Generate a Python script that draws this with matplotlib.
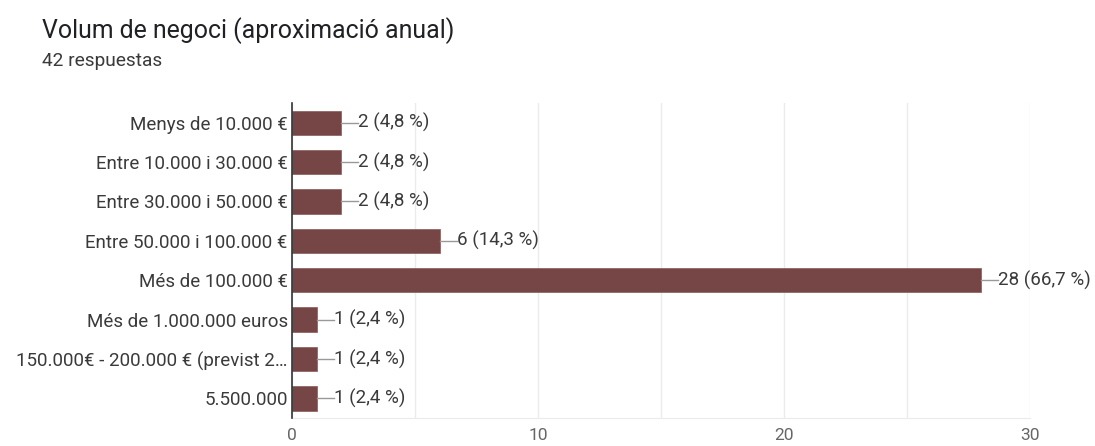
import matplotlib.pyplot as plt

plt.rcParams['font.family'] = ['Roboto', 'DejaVu Sans']

# data
categories = ['Menys de 10.000 €', 'Entre 10.000 i 30.000 €', 'Entre 30.000 i 50.000 €',
              'Entre 50.000 i 100.000 €', 'Més de 100.000 €', 'Més de 1.000.000 euros',
              '150.000€ - 200.000 € (previst 2…', '5.500.000']
counts = [2, 2, 2, 6, 28, 1, 1, 1]
pct_labels = ['4,8 %', '4,8 %', '4,8 %', '14,3 %', '66,7 %', '2,4 %', '2,4 %', '2,4 %']
xticks = [0, 10, 20, 30]

fig = plt.figure(figsize=(10.95, 4.46), dpi=100)
ax = fig.add_axes([0.2667, 0.0628, 0.6739, 0.7062])

ypos = list(range(len(categories)))
ax.barh(ypos, counts, height=0.62, color='#764545', edgecolor='#8a5a5a', linewidth=0.5, zorder=3)

# value labels with a short connector line
for y, c, p in zip(ypos, counts, pct_labels):
    ax.plot([c, c + 0.7], [y, y], color='#999999', lw=1, zorder=3, clip_on=False)
    ax.text(c + 0.7, y, f'{c} ({p})', va='center', ha='left', fontsize=13.5,
            color='#3a3a3a', clip_on=False)

ax.set_xlim(0, 30)
ax.set_ylim(len(categories) - 0.5, -0.5)
ax.set_yticks(ypos)
ax.set_yticklabels(categories, fontsize=13.5, color='#3a3a3a')
ax.set_xticks(xticks)
ax.set_xticklabels([str(t) for t in xticks], fontsize=12.5, color='#666666')
ax.set_xticks([5, 15, 25], minor=True)
ax.tick_params(axis='both', which='both', length=0)
ax.tick_params(axis='y', pad=3)
ax.tick_params(axis='x', pad=7)
ax.grid(axis='x', which='both', color='#ebebeb', lw=1, zorder=0)

for s in ['top', 'right']:
    ax.spines[s].set_visible(False)
ax.spines['bottom'].set_color('#ebebeb')
ax.spines['left'].set_color('#333333')
ax.spines['left'].set_linewidth(1.2)
ax.spines['left'].set_zorder(4)

fig.text(42 / 1095, 1 - 31 / 446, 'Volum de negoci (aproximació anual)', fontsize=17.9,
         color='#202124', va='center', ha='left')
fig.text(42 / 1095, 1 - 61 / 446, '42 respuestas', fontsize=13.8, color='#3a3a3a',
         va='center', ha='left')

fig.savefig('out.png', dpi=100)
